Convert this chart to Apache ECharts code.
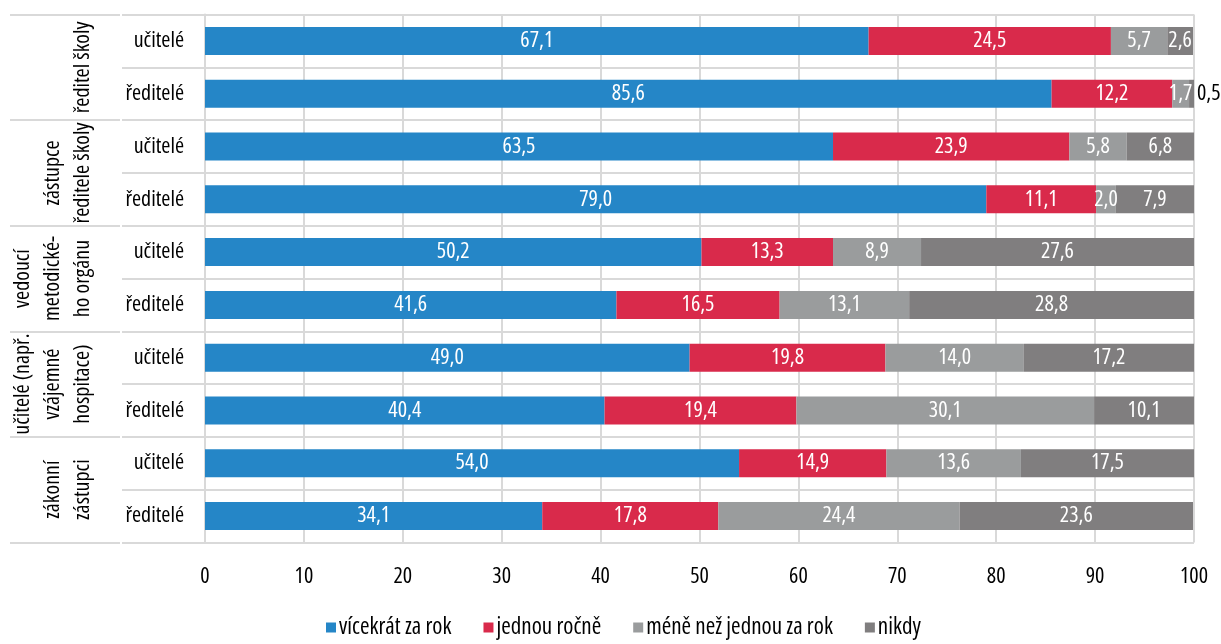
<!DOCTYPE html>
<html>
<head>
<meta charset="utf-8">
<script src="https://cdn.jsdelivr.net/npm/echarts@6/dist/echarts.min.js"></script>
<style>
  html, body { margin: 0; padding: 0; background: #fff; }
  #chart { width: 1221px; height: 644px; }
</style>
</head>
<body>
<div id="chart"></div>
<script>
// Respondent rows (top to bottom) and the group each pair of rows belongs to
const rows = ['učitelé', 'ředitelé', 'učitelé', 'ředitelé', 'učitelé', 'ředitelé', 'učitelé', 'ředitelé', 'učitelé', 'ředitelé'];
const groups = [
  'ředitel školy',
  'zástupce\nředitele školy',
  'vedoucí\nmetodické-\nho orgánu',
  'učitelé (např.\nvzájemné\nhospitace)',
  'zákonní\nzástupci'
];

// Share of answers (%) per row
const seriesNames = ['vícekrát za rok', 'jednou ročně', 'méně než jednou za rok', 'nikdy'];
const vicekrat = [67.1, 85.6, 63.5, 79.0, 50.2, 41.6, 49.0, 40.4, 54.0, 34.1];
const jednou   = [24.5, 12.2, 23.9, 11.1, 13.3, 16.5, 19.8, 19.4, 14.9, 17.8];
const mene     = [5.7, 1.7, 5.8, 2.0, 8.9, 13.1, 14.0, 30.1, 13.6, 24.4];
const nikdy    = [2.6, 0.5, 6.8, 7.9, 27.6, 28.8, 17.2, 10.1, 17.5, 23.6];
const xTicks   = [0, 10, 20, 30, 40, 50, 60, 70, 80, 90, 100];

const colors = ['#2586c7', '#d92a4b', '#9a9c9d', '#807e7f'];
const FONT = '"Open Sans", "DejaVu Sans Condensed", sans-serif';
const NARROW = 'condensed';   // font-stretch keyword, placed where the weight goes in the canvas font string
const LINE = '#d9d9d9';

const fmt = v => v.toFixed(1).replace('.', ',');

// Segments too thin to hold their value get it printed past the bar end
const toData = arr => arr.map(v => v < 1
  ? { value: v, label: { position: 'right', color: '#000', distance: 3 } }
  : v);

const chart = echarts.init(document.getElementById('chart'), null, { renderer: 'canvas' });

chart.setOption({
  animation: false,
  color: colors,
  textStyle: { fontFamily: FONT, fontWeight: NARROW },
  grid: { left: 205, right: 27, top: 14.6, bottom: 101.6, containLabel: false },
  legend: {
    top: 611,
    left: 321,
    icon: 'rect',
    itemWidth: 10,
    itemHeight: 10,
    itemGap: 32,
    textStyle: { fontFamily: FONT, fontWeight: NARROW, fontSize: 23, color: '#000', padding: [0, 0, 0, -2] },
    data: seriesNames
  },
  xAxis: {
    type: 'value',
    min: xTicks[0],
    max: xTicks[xTicks.length - 1],
    interval: 10,
    axisLine: { show: false },
    axisTick: { show: false },
    axisLabel: { fontFamily: FONT, fontWeight: NARROW, fontSize: 22, color: '#000', margin: 23 },
    splitLine: { show: true, lineStyle: { color: LINE, width: 2 } }
  },
  yAxis: [
    {
      type: 'category',
      data: rows,
      inverse: true,
      axisLine: { show: true, lineStyle: { color: LINE, width: 2 } },
      axisTick: { show: true, length: 83, lineStyle: { color: LINE, width: 2 } },
      axisLabel: { fontFamily: FONT, fontWeight: NARROW, fontSize: 22, color: '#000', margin: 21 },
      splitLine: { show: true, lineStyle: { color: LINE, width: 2 } }
    },
    {
      type: 'category',
      data: groups,
      inverse: true,
      position: 'left',
      offset: 85,
      axisLine: { show: false },
      axisTick: { show: true, length: 110, lineStyle: { color: LINE, width: 2 } },
      axisLabel: {
        fontFamily: FONT, fontWeight: NARROW, fontSize: 22, color: '#000',
        rotate: 90, margin: 22, lineHeight: 30, interval: 0
      },
      splitLine: { show: false }
    }
  ],
  series: [vicekrat, jednou, mene, nikdy].map((arr, i) => ({
    name: seriesNames[i],
    type: 'bar',
    stack: 'total',
    yAxisIndex: 0,
    barCategoryGap: '47%',
    data: toData(arr),
    label: {
      show: true,
      position: 'inside',
      color: '#fff',
      fontFamily: FONT,
      fontWeight: NARROW,
      fontSize: 22,
      formatter: p => fmt(p.value)
    }
  }))
});
</script>
</body>
</html>
